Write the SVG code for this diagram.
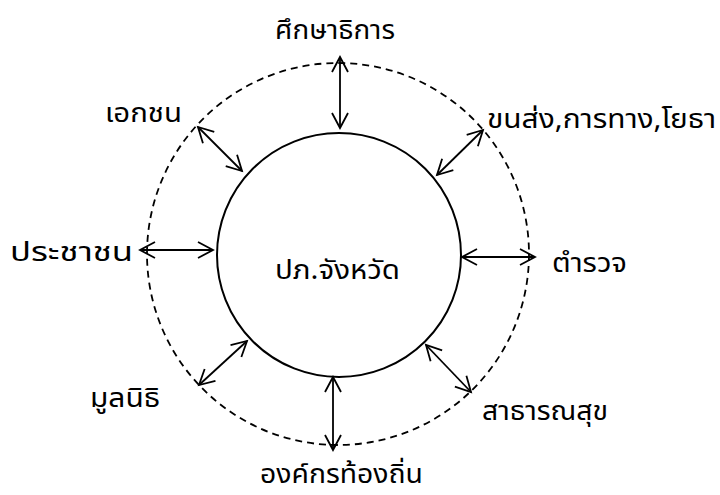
<svg xmlns="http://www.w3.org/2000/svg" width="720" height="495" viewBox="0 0 720 495">
<style>
.t{font-family:"Noto Sans Thai","Noto Serif Thai","Liberation Serif","DejaVu Sans",serif;font-size:27px;fill:#000}
.c{fill:none;stroke:#000;stroke-width:2}
.o{fill:none;stroke:#000;stroke-width:1.8;stroke-dasharray:7 5}
.a{stroke:#000;stroke-width:1.8;fill:none;marker-start:url(#ah);marker-end:url(#ah)}
</style>
<defs>
<marker id="ah" viewBox="0 0 20 20" refX="17" refY="10" markerWidth="20" markerHeight="20" markerUnits="userSpaceOnUse" orient="auto-start-reverse">
<path d="M2,2 L17,10 L2,18" fill="none" stroke="#000" stroke-width="1.8"/>
</marker>
</defs>
<rect width="720" height="495" fill="#fff"/>
<g id="outer-ring"><circle class="o" cx="338" cy="254" r="191"/></g>
<g id="center"><circle class="c" cx="339" cy="255" r="122"/><text class="t" x="275" y="279" textLength="125" lengthAdjust="spacingAndGlyphs">ปภ.จังหวัด</text></g>
<g id="n-education"><text class="t" x="275" y="39" textLength="120" lengthAdjust="spacingAndGlyphs">ศึกษาธิการ</text></g>
<g id="n-private"><text class="t" x="105" y="122" textLength="77" lengthAdjust="spacingAndGlyphs">เอกชน</text></g>
<g id="n-transport"><text class="t" x="487" y="128" textLength="229" lengthAdjust="spacingAndGlyphs">ขนส่ง,การทาง,โยธา</text></g>
<g id="n-people"><text class="t" x="10" y="261" textLength="123" lengthAdjust="spacingAndGlyphs">ประชาชน</text></g>
<g id="n-police"><text class="t" x="552" y="272" textLength="75" lengthAdjust="spacingAndGlyphs">ตำรวจ</text></g>
<g id="n-foundation"><text class="t" x="90" y="407" textLength="70" lengthAdjust="spacingAndGlyphs">มูลนิธิ</text></g>
<g id="n-health"><text class="t" x="482" y="420" textLength="126" lengthAdjust="spacingAndGlyphs">สาธารณสุข</text></g>
<g id="n-local"><text class="t" x="260" y="483" textLength="163" lengthAdjust="spacingAndGlyphs">องค์กรท้องถิ่น</text></g>
<g id="connectors">
<line class="a" x1="340" y1="57" x2="340" y2="128"/>
<line class="a" x1="198" y1="127" x2="242" y2="171"/>
<line class="a" x1="483" y1="130" x2="437" y2="175"/>
<line class="a" x1="140" y1="250" x2="213" y2="250"/>
<line class="a" x1="462" y1="257" x2="535" y2="257"/>
<line class="a" x1="199" y1="385" x2="247" y2="341"/>
<line class="a" x1="426" y1="345" x2="471" y2="392"/>
<line class="a" x1="333" y1="377" x2="333" y2="450"/>
</g>
</svg>
